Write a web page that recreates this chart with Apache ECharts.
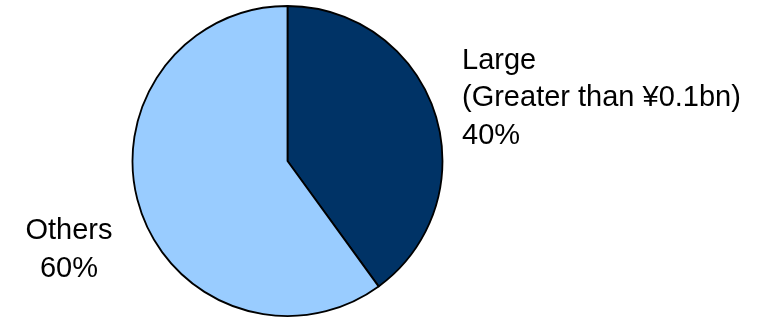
<!DOCTYPE html>
<html>
<head>
<meta charset="utf-8">
<script src="https://cdn.jsdelivr.net/npm/echarts@6/dist/echarts.min.js"></script>
<style>
html,body{margin:0;padding:0;background:#fff;}
#chart{width:766px;height:320px;}
</style>
</head>
<body>
<div id="chart"></div>
<script>
const categories = ['Large\n(Greater than ¥0.1bn)', 'Others'];
const values = [40, 60];
const colors = ['#003366', '#99CCFF'];

const labelPos = [
  {x: 462, y: 98, align: 'left', verticalAlign: 'middle'},
  {x: 69, y: 250, align: 'center', verticalAlign: 'middle'}
];

const chart = echarts.init(document.getElementById('chart'), null, {renderer: 'canvas'});
chart.setOption({
  animation: false,
  backgroundColor: '#ffffff',
  series: [{
    type: 'pie',
    center: [287.5, 161],
    radius: [0, 155],
    startAngle: 90,
    clockwise: true,
    avoidLabelOverlap: false,
    data: categories.map((c, i) => ({name: c, value: values[i], itemStyle: {color: colors[i]}})),
    itemStyle: {borderColor: '#000', borderWidth: 1.8},
    label: {
      show: true,
      formatter: '{b}\n{c}%',
      fontFamily: 'Liberation Sans, Arial, sans-serif',
      fontSize: 29,
      lineHeight: 37.5,
      color: '#000'
    },
    labelLine: {show: false},
    labelLayout: function (p) {
      return labelPos[p.dataIndex];
    },
    emphasis: {disabled: true}
  }]
});
</script>
</body>
</html>
